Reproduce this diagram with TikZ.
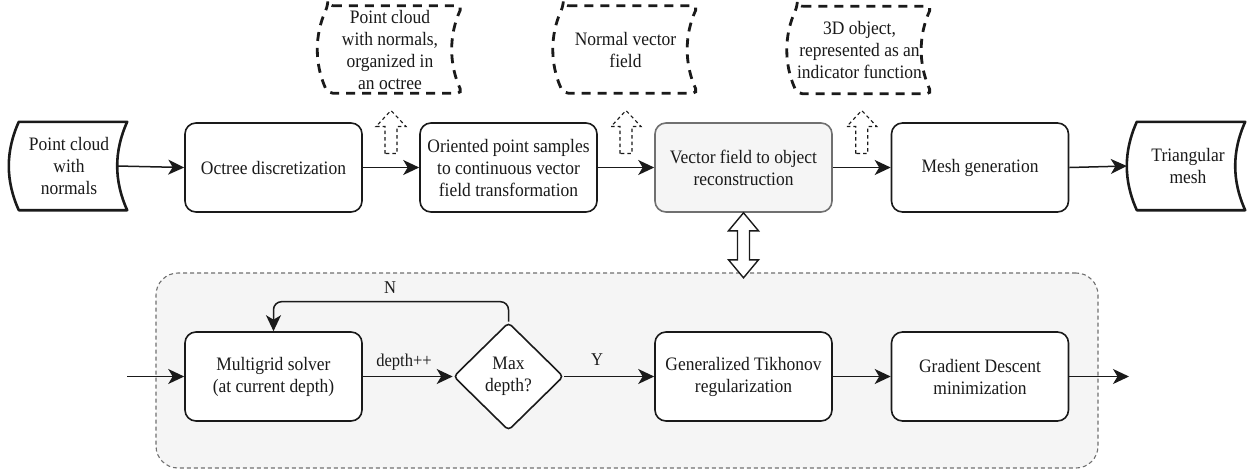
\documentclass[tikz,border=0pt]{standalone}
\usepackage{fontspec}
\setmainfont{Liberation Serif}[FakeStretch=0.92]
\usetikzlibrary{calc,arrows.meta,shapes.geometric}

\definecolor{panelfill}{HTML}{F5F5F5}
\definecolor{panelline}{HTML}{707070}
\definecolor{ink}{HTML}{1A1A1A}

% stored-data outline (convex left side, concave right side) around a named node
\newcommand{\storeddata}[3]{%
  \draw[#2] ($(#1.north west)+(#3,0)$) -- (#1.north east)
    .. controls ($(#1.north east)!1/3!(#1.south east)+(-4*#3/3,0)$)
           and ($(#1.north east)!2/3!(#1.south east)+(-4*#3/3,0)$) .. (#1.south east)
    -- ($(#1.south west)+(#3,0)$)
    .. controls ($(#1.south west)!1/3!(#1.north west)+(-#3/3,0)$)
           and ($(#1.south west)!2/3!(#1.north west)+(-#3/3,0)$) .. ($(#1.north west)+(#3,0)$)
    -- cycle;}

% hollow dashed arrow pointing up, sitting above a coordinate on the main line
\newcommand{\hintarrow}[1]{%
  \draw[hint] ($(#1)+(-6,-14)$) -- ($(#1)+(-6,-41)$) -- ($(#1)+(-15,-41)$)
    -- ($(#1)+(0,-57)$) -- ($(#1)+(15,-41)$) -- ($(#1)+(6,-41)$)
    -- ($(#1)+(6,-14)$) -- cycle;}

\tikzset{
  every node/.style={font=\fontsize{19}{22}\selectfont, align=center, inner sep=0pt, text=ink},
  proc/.style={draw=ink, line width=1.6pt, rounded corners=11pt, fill=white,
               minimum width=177pt, minimum height=89pt},
  procgray/.style={proc, draw=panelline, fill=panelfill},
  tapebox/.style={minimum width=118pt, minimum height=88pt},
  tapeline/.style={draw=ink, line width=2.6pt, line join=round, fill=white},
  databox/.style={minimum width=144pt, minimum height=87pt},
  dataline/.style={draw=ink, line width=2.8pt, dash pattern=on 9pt off 7pt, rounded corners=5pt},
  panel/.style={draw=panelline, fill=panelfill, line width=1.1pt, dash pattern=on 4pt off 3pt,
                rounded corners=22pt, minimum width=942pt, minimum height=195pt},
  decision/.style={diamond, draw=ink, line width=1.6pt, fill=white, rounded corners=4pt,
                   minimum width=110pt, minimum height=108pt},
  arr/.style={draw=ink, line width=1.5pt, -{Stealth[length=16pt,width=15pt,inset=4.5pt]}},
  hint/.style={draw=ink, line width=1.1pt, dash pattern=on 3.5pt off 3pt, line join=miter},
  twoway/.style={draw=ink, line width=1.4pt, fill=white, line join=miter},
  lbl/.style={font=\fontsize{18}{20}\selectfont}
}

\begin{document}
\begin{tikzpicture}[x=1pt,y=-1pt]
\useasboundingbox (0,0) rectangle (1248,475);
\fill[white] (0,0) rectangle (1248,475);

% lower panel: detail of the reconstruction step
\node[panel] (panel) at (627,370.5) {};

% main pipeline
\node[tapebox] (src) at (68,166) {};
\storeddata{src}{tapeline}{10pt}
\node (srctext) at (69,166) {Point cloud\\with\\normals};
\node[proc] (octree) at (273.5,167.5) {Octree discretization};
\node[proc] (orient) at (508.5,167.5) {Oriented point samples\\to continuous vector\\field transformation};
\node[procgray] (vec) at (743.5,167.5) {Vector field to object\\reconstruction};
\node[proc] (mesh) at (980,167.5) {Mesh generation};
\node[tapebox] (out) at (1186,166) {};
\storeddata{out}{tapeline}{10pt}
\node (outtext) at (1188,166) {Triangular\\mesh};

\draw[arr] ($(src.east)+(-10pt,0)$) -- (octree.west);
\draw[arr] (octree) -- (orient);
\draw[arr] (orient) -- (vec);
\draw[arr] (vec) -- (mesh);
\draw[arr] (mesh.east) -- (out.west);

% intermediate data products
\node[databox] (d1) at (390,49.5) {Point cloud\\with normals,\\organized in\\an octree};
\storeddata{d1}{dataline}{10pt}
\node[databox] (d2) at (625.5,49.5) {Normal vector\\field};
\storeddata{d2}{dataline}{10pt}
\node[databox] (d3) at (859.5,50) {3D object,\\represented as an\\indicator function};
\storeddata{d3}{dataline}{10pt}

\coordinate (g1) at ($(octree.east)!0.5!(orient.west)$);
\coordinate (g2) at ($(orient.east)!0.5!(vec.west)$);
\coordinate (g3) at ($(vec.east)!0.5!(mesh.west)$);
\hintarrow{g1}
\hintarrow{g2}
\hintarrow{g3}

% link between the reconstruction step and its detail
\coordinate (lk) at (vec.south);
\draw[twoway] (lk) -- ($(lk)+(15,18)$) -- ($(lk)+(6,18)$) -- ($(lk)+(6,47)$)
  -- ($(lk)+(15,47)$) -- ($(lk)+(0,65)$) -- ($(lk)+(-15,47)$) -- ($(lk)+(-6,47)$)
  -- ($(lk)+(-6,18)$) -- ($(lk)+(-15,18)$) -- cycle;

% solver loop
\node[proc] (multi) at (273.5,376.5) {Multigrid solver\\(at current depth)};
\node[decision] (dia) at (508.5,376.5) {Max\\depth?};
\node[proc] (tik) at (743.5,376.5) {Generalized Tikhonov\\regularization};
\node[proc] (grad) at (980,376.5) {Gradient Descent\\minimization};
\coordinate (entry) at (127,376.5);
\coordinate (exit) at (1129,376.5);

\draw[arr] (entry) -- (multi.west);
\draw[arr] (multi) -- (dia);
\draw[arr] (dia) -- (tik);
\draw[arr] (tik) -- (grad);
\draw[arr] (grad.east) -- (exit);
\draw[arr, rounded corners=8pt] (dia.north) -- ($(dia.north)+(0,-20)$) -| (multi.north);

\node[lbl] (ldepth) at (404,362) {depth++};
\node[lbl] (lno) at (390,288) {N};
\node[lbl] (lyes) at (597,360) {Y};
\end{tikzpicture}
\end{document}
